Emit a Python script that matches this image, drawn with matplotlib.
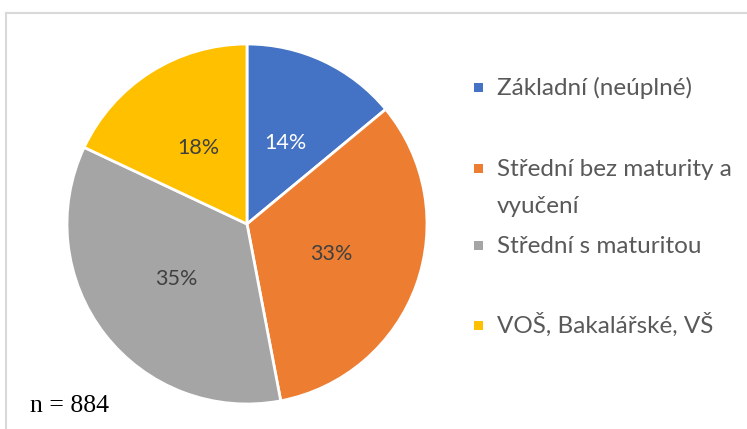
import matplotlib.pyplot as plt
from matplotlib.patches import Rectangle
from matplotlib.lines import Line2D

# data
categories = ['Základní (neúplné)', 'Střední bez maturity a\nvyučení',
              'Střední s maturitou', 'VOŠ, Bakalářské, VŠ']
shares = [14, 33, 35, 18]
colors = ['#4472C4', '#ED7D31', '#A5A5A5', '#FFC000']
pct_colors = ['white', '#404040', '#404040', '#404040']
n_total = 884

W, H = 747, 429
fig = plt.figure(figsize=(W / 100, H / 100), dpi=100)

# pie axes: centre ~ (247, 224) px, radius ~180 px
cx, cy, r = 247, 224, 180
ax = fig.add_axes([(cx - r) / W, (H - cy - r) / H, 2 * r / W, 2 * r / H])
wedges, texts, autotexts = ax.pie(
    shares, colors=colors, startangle=90, counterclock=False,
    autopct='%d%%', pctdistance=0.5,
    wedgeprops=dict(edgecolor='white', linewidth=2),
    textprops=dict(fontsize=15.5, family='Lato'))
for t, c in zip(autotexts, pct_colors):
    t.set_color(c)
ax.set_xlim(-1, 1)
ax.set_ylim(-1, 1)
ax.set_aspect('equal')

# legend drawn by hand (Excel style spacing)
leg_y = [87, 168, 245, 325]   # marker centres, px from top
line_h = 37
mx, tx, msz = 478, 497, 9
for lab, col, y in zip(categories, colors, leg_y):
    fig.add_artist(Rectangle(((mx - msz / 2) / W, (H - y - msz / 2) / H),
                             msz / W, msz / H, facecolor=col, edgecolor='none',
                             transform=fig.transFigure))
    # baseline of the last line of the label
    base = y + 8 + lab.count('\n') * line_h
    fig.text(tx / W, (H - base) / H, lab, fontsize=17.5, family='Lato',
             color='#595959', va='baseline', ha='left', linespacing=1.95)

fig.text(30 / W, (H - 412) / H, f'n = {n_total}', fontsize=18.5,
         family='Liberation Serif', color='black', va='baseline')

# chart area border (top and left visible)
fig.add_artist(Line2D([6 / W, 1], [1 - 13 / H, 1 - 13 / H], color='#D9D9D9',
                      linewidth=1.5, transform=fig.transFigure))
fig.add_artist(Line2D([6 / W, 6 / W], [0, 1 - 13 / H], color='#D9D9D9',
                      linewidth=1.5, transform=fig.transFigure))

fig.savefig('out.png', dpi=100)
